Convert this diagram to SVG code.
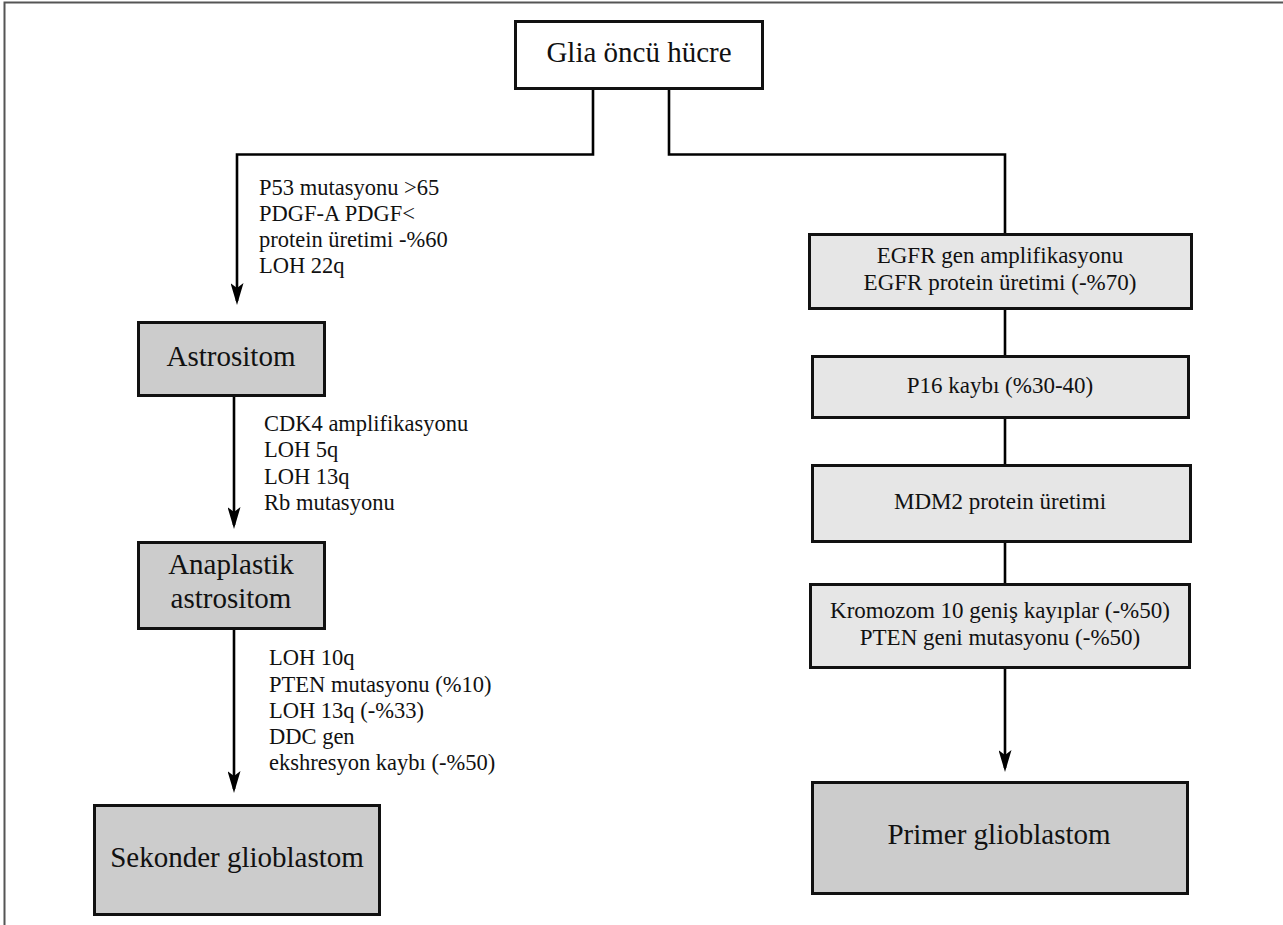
<svg xmlns="http://www.w3.org/2000/svg" width="1283" height="925" viewBox="0 0 1283 925">
<style>
.frame{fill:none;stroke:#555;stroke-width:2}
.box{stroke:#111;stroke-width:3}
.white{fill:#fff}
.dark{fill:#cccccc}
.light{fill:#e6e6e6}
.conn{fill:none;stroke:#000;stroke-width:2.6}
text{font-family:"Liberation Serif","Times New Roman",serif;fill:#111}
.big{font-size:29px;text-anchor:middle}
.mid{font-size:23px;text-anchor:middle}
.lab{font-size:22.5px}
</style>
<defs>
<marker id="arr" viewBox="0 0 22 13" refX="18" refY="6.5" markerWidth="22" markerHeight="13" markerUnits="userSpaceOnUse" orient="auto">
<path d="M0,0 L22,6.5 L0,13 L5,6.5 Z" fill="#000"/>
</marker>
</defs>
<rect width="1283" height="925" fill="#fff"/>
<path class="frame" d="M4.5,925 V2.5 H1283"/>
<g id="connectors">
<path class="conn" d="M593,88 V154.5 H237 V301" marker-end="url(#arr)"/>
<path class="conn" d="M669,88 V154.5 H1005 V234"/>
<path class="conn" d="M234,395 V525" marker-end="url(#arr)"/>
<path class="conn" d="M234,628 V789" marker-end="url(#arr)"/>
<path class="conn" d="M1005,308 V356"/>
<path class="conn" d="M1005,417 V465"/>
<path class="conn" d="M1005,541 V584"/>
<path class="conn" d="M1005,667 V768" marker-end="url(#arr)"/>
</g>
<g id="labels">
<text class="lab" x="259" y="195">P53 mutasyonu &gt;65</text>
<text class="lab" x="259" y="221">PDGF-A PDGF&lt;</text>
<text class="lab" x="259" y="247">protein üretimi -%60</text>
<text class="lab" x="259" y="273">LOH 22q</text>
<text class="lab" x="264" y="431">CDK4 amplifikasyonu</text>
<text class="lab" x="264" y="457">LOH 5q</text>
<text class="lab" x="264" y="484">LOH 13q</text>
<text class="lab" x="264" y="510">Rb mutasyonu</text>
<text class="lab" x="269" y="665">LOH 10q</text>
<text class="lab" x="269" y="691.5">PTEN mutasyonu (%10)</text>
<text class="lab" x="269" y="718">LOH 13q (-%33)</text>
<text class="lab" x="269" y="744">DDC gen</text>
<text class="lab" x="269" y="770">ekshresyon kaybı (-%50)</text>
</g>
<g id="glia">
<rect class="box white" x="515.5" y="21.5" width="247" height="67"/>
<text class="big" x="639" y="62">Glia öncü hücre</text>
</g>
<g id="astrositom">
<rect class="box dark" x="138.5" y="322.5" width="186" height="73"/>
<text class="big" x="231" y="366">Astrositom</text>
</g>
<g id="anaplastik">
<rect class="box dark" x="138.5" y="542.5" width="186" height="86"/>
<text class="big" x="231" y="574">Anaplastik</text>
<text class="big" x="231" y="608">astrositom</text>
</g>
<g id="sekonder">
<rect class="box dark" x="94.5" y="805.5" width="285" height="109"/>
<text class="big" x="237" y="867">Sekonder glioblastom</text>
</g>
<g id="egfr">
<rect class="box light" x="809.5" y="234.5" width="382" height="74"/>
<text class="mid" x="1000" y="263">EGFR gen amplifikasyonu</text>
<text class="mid" x="1000" y="290">EGFR protein üretimi (-%70)</text>
</g>
<g id="p16">
<rect class="box light" x="812.5" y="356.5" width="376" height="61"/>
<text class="mid" x="1000" y="393">P16 kaybı (%30-40)</text>
</g>
<g id="mdm2">
<rect class="box light" x="812.5" y="465.5" width="378" height="76"/>
<text class="mid" x="1000" y="509">MDM2 protein üretimi</text>
</g>
<g id="kromozom">
<rect class="box light" x="810.5" y="584.5" width="379" height="83"/>
<text class="mid" x="1000" y="618">Kromozom 10 geniş kayıplar (-%50)</text>
<text class="mid" x="1000" y="645">PTEN geni mutasyonu (-%50)</text>
</g>
<g id="primer">
<rect class="box dark" x="812.5" y="782.5" width="375" height="111"/>
<text class="big" x="999" y="844">Primer glioblastom</text>
</g>
</svg>
